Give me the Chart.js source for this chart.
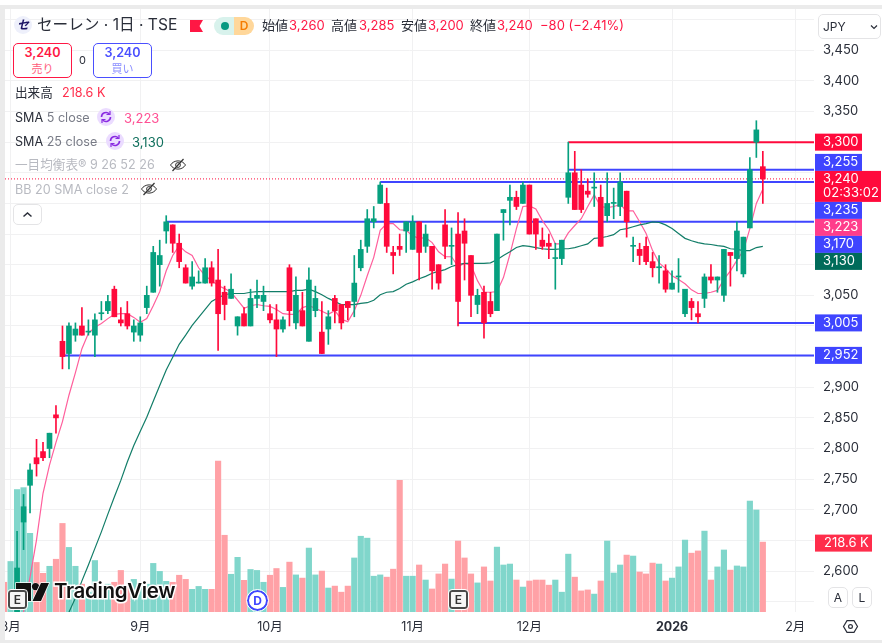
<!DOCTYPE html>
<html lang="ja">
<head>
<meta charset="utf-8">
<title>セーレン · 1日 · TSE</title>
<script src="https://cdn.jsdelivr.net/npm/chart.js@4/dist/chart.umd.min.js"></script>
<style>
  html, body { margin: 0; padding: 0; background: #fff; width: 882px; height: 643px; overflow: hidden; }
  body { position: relative; font-family: Inter, "Noto Sans CJK JP", sans-serif; color: #2a2e39; }
  canvas { position: absolute; left: 0; top: 0; }
  .abs { position: absolute; white-space: nowrap; line-height: 18px; height: 18px; }
  .band { position: absolute; background: #ebebeb; }
  .red { color: #ff1744; }
  .grey { color: #787b86; }
  .faint { color: #b8bac1; }
  .order { position: absolute; top: 43px; width: 57px; height: 33px; border: 1px solid; border-radius: 5px; text-align: center; box-sizing: content-box; background: #fff; }
  .order b { display: block; font-size: 12.6px; line-height: 18px; font-weight: 600; }
  .order span { display: block; font-size: 11px; line-height: 14px; }
  .btn { position: absolute; border: 1px solid #e4e4e6; border-radius: 5px; background: #fff; text-align: center; box-sizing: border-box; }
  .badge { position: absolute; width: 19px; height: 19px; box-sizing: border-box; border: 2px solid #4a4a4a; outline: 1px solid #fff; border-radius: 3px; background: #f6f6f6; text-align: center; font-size: 12px; line-height: 15px; font-weight: 600; color: #333; }
  svg { position: absolute; overflow: visible; }
</style>
</head>
<body>
<canvas id="chart" width="882" height="643"></canvas>

<div class="band" style="left:0;top:5px;width:882px;height:4px"></div>
<div class="band" style="left:0;top:5px;width:5px;height:638px"></div>
<div class="band" style="left:0;top:640px;width:882px;height:3px"></div>

<!-- symbol header -->
<div class="abs" style="left:14px;top:16px;width:18px;border-radius:9px;background:#eef0fb;text-align:center;color:#1c1464;font-size:12px;font-weight:700;font-style:italic">セ</div>
<div class="abs" style="left:37px;top:16px;font-size:15.6px">セーレン · 1日 · TSE</div>
<svg style="left:190px;top:20px" width="14" height="12"><path d="M0 0H13L9.5 6L13 12H0Z" fill="#ff1744"/></svg>
<div class="abs" style="left:214px;top:17px;width:20px;background:#d8f2ec;border-radius:9px 0 0 9px"></div>
<div class="abs" style="left:234px;top:17px;width:20px;background:#ffd79a;border-radius:0 9px 9px 0;text-align:center;font-size:12px;color:#f57c00;font-weight:600">D</div>
<div class="abs" style="left:221px;top:22px;width:8px;height:8px;border-radius:4px;background:#089981"></div>
<div class="abs" style="left:262px;top:16px;font-size:13px">始値</div><div class="abs red" style="left:289px;top:16px;font-size:13px">3,260</div>
<div class="abs" style="left:331px;top:16px;font-size:13px">高値</div><div class="abs red" style="left:359px;top:16px;font-size:13px">3,285</div>
<div class="abs" style="left:401px;top:16px;font-size:13px">安値</div><div class="abs red" style="left:428px;top:16px;font-size:13px">3,200</div>
<div class="abs" style="left:470px;top:16px;font-size:13px">終値</div><div class="abs red" style="left:497px;top:16px;font-size:13px">3,240</div>
<div class="abs red" style="left:540px;top:16px;font-size:13px">−80 (−2.41%)</div>

<!-- currency selector -->
<div class="btn" style="left:818px;top:14px;width:63px;height:25px;font-size:12px;line-height:23px;text-align:left;padding-left:4px">JPY</div>
<svg style="left:871px;top:25px" width="6" height="4"><path d="M0 0.5L3 3.5L6 0.5" fill="none" stroke="#2a2e39" stroke-width="1.2"/></svg>

<!-- order buttons -->
<div class="order" style="left:13px;border-color:#ff1744;color:#ff1744"><b>3,240</b><span style="color:#ff5c7c">売り</span></div>
<div class="abs" style="left:79px;top:51px;font-size:11px">0</div>
<div class="order" style="left:93px;border-color:#4a4fff;color:#4a4fff"><b>3,240</b><span style="color:#8a8dff">買い</span></div>

<!-- indicator legend -->
<div class="abs" style="left:15px;top:84px;font-size:12.6px">出来高</div>
<div class="abs" style="left:62px;top:84px;font-size:12.6px;color:#ff2d4b">218.6 K</div>

<div class="abs" style="left:15px;top:109px;font-size:12.6px">SMA <span class="grey">5 close</span></div>
<svg style="left:97px;top:108px" width="18" height="18"><circle cx="9" cy="9" r="9" fill="#ebdcff"/><path d="M4.5 9a4.5 4.5 0 0 1 7.8-3M13.5 9a4.5 4.5 0 0 1-7.8 3" fill="none" stroke="#8a2be2" stroke-width="1.6"/><path d="M13 3v3.5h-3.5M5 15v-3.5h3.5" fill="none" stroke="#8a2be2" stroke-width="1.2"/></svg>
<div class="abs" style="left:124px;top:109px;font-size:13px;color:#ff4f93">3,223</div>

<div class="abs" style="left:15px;top:133px;font-size:12.6px">SMA <span class="grey">25 close</span></div>
<svg style="left:106px;top:132px" width="18" height="18"><circle cx="9" cy="9" r="9" fill="#ebdcff"/><path d="M4.5 9a4.5 4.5 0 0 1 7.8-3M13.5 9a4.5 4.5 0 0 1-7.8 3" fill="none" stroke="#8a2be2" stroke-width="1.6"/><path d="M13 3v3.5h-3.5M5 15v-3.5h3.5" fill="none" stroke="#8a2be2" stroke-width="1.2"/></svg>
<div class="abs" style="left:132px;top:133px;font-size:13px;color:#0f6f5c">3,130</div>

<div class="abs faint" style="left:15px;top:156px;font-size:12.6px">一目均衡表® 9 26 52 26</div>
<svg style="left:170px;top:158px" width="16" height="14"><path d="M0.5 7C4 1.5 12 1.5 15.5 7C12 12.5 4 12.5 0.5 7Z" fill="none" stroke="#333" stroke-width="1"/><circle cx="8" cy="7" r="2.4" fill="none" stroke="#333"/><path d="M2.5 13L13.5 1" stroke="#333" stroke-width="1.2"/></svg>
<div class="abs faint" style="left:15px;top:181px;font-size:12.6px">BB 20 SMA close 2</div>
<svg style="left:141px;top:182px" width="16" height="14"><path d="M0.5 7C4 1.5 12 1.5 15.5 7C12 12.5 4 12.5 0.5 7Z" fill="none" stroke="#333" stroke-width="1"/><circle cx="8" cy="7" r="2.4" fill="none" stroke="#333"/><path d="M2.5 13L13.5 1" stroke="#333" stroke-width="1.2"/></svg>
<div class="btn" style="left:13px;top:204px;width:29px;height:21px"></div>
<svg style="left:23px;top:212px" width="9" height="5"><path d="M0.5 4.5L4.5 1L8.5 4.5" fill="none" stroke="#2a2e39" stroke-width="1.5"/></svg>

<!-- watermark and event markers -->
<svg style="left:16px;top:582px" width="32" height="20"><path d="M0 1H15V19H8V8H0Z" fill="#111" stroke="#fff" stroke-width="1.4" paint-order="stroke"/><circle cx="19.5" cy="4.6" r="3.6" fill="#111" stroke="#fff" stroke-width="1" paint-order="stroke"/><path d="M25 1H33L25 19H16.5Z" fill="#111" stroke="#fff" stroke-width="1.4" paint-order="stroke"/></svg>
<div class="abs" style="left:54px;top:580px;height:22px;line-height:22px;font-size:20.5px;font-weight:600;letter-spacing:-0.35px;color:#111;-webkit-text-stroke:3px #fff;paint-order:stroke fill">TradingView</div>
<div class="badge" style="left:8px;top:590px">E</div>
<div class="badge" style="left:449px;top:590px">E</div>
<div class="abs" style="left:247px;top:590px;width:17px;height:17px;border:2px solid #3f45ff;outline:1px solid #fff;border-radius:50%;background:#fff;text-align:center;font-size:12px;font-weight:700;color:#3f45ff;line-height:17px">D</div>

<!-- scale buttons -->
<div class="btn" style="left:828px;top:587px;width:20px;height:21px;font-size:12px;line-height:19px">A</div>
<div class="btn" style="left:852px;top:587px;width:20px;height:21px;font-size:12px;line-height:19px">L</div>
<svg style="left:843px;top:620px" width="15" height="13"><path d="M0.5 6.5L4 0.7H11L14.5 6.5L11 12.3H4Z" fill="none" stroke="#2a2e39" stroke-width="1.2"/><circle cx="7.5" cy="6.5" r="1.9" fill="none" stroke="#2a2e39" stroke-width="1.2"/></svg>

<script>
// Daily sessions, 2025-07-31 through 2026-01-26, then the empty sessions to the right of the last bar
const categories = [
  '07/31',
  '08/01','08/04','08/05','08/06','08/07','08/08','08/12','08/13','08/14','08/15','08/18','08/19','08/20','08/21','08/22','08/25','08/26','08/27','08/28','08/29',
  '09/01','09/02','09/03','09/04','09/05','09/08','09/09','09/10','09/11','09/12','09/16','09/17','09/18','09/19','09/22','09/24','09/25','09/26','09/29','09/30',
  '10/01','10/02','10/03','10/06','10/07','10/08','10/09','10/10','10/14','10/15','10/16','10/17','10/20','10/21','10/22','10/23','10/24','10/27','10/28','10/29','10/30','10/31',
  '11/04','11/05','11/06','11/07','11/10','11/11','11/12','11/13','11/14','11/17','11/18','11/19','11/20','11/21','11/25','11/26','11/27','11/28',
  '12/01','12/02','12/03','12/04','12/05','12/08','12/09','12/10','12/11','12/12','12/15','12/16','12/17','12/18','12/19','12/22','12/23','12/24','12/25','12/26','12/29','12/30',
  '01/05','01/06','01/07','01/08','01/09','01/13','01/14','01/15','01/16','01/19','01/20','01/21','01/22','01/23','01/26',
  '01/27','01/28','01/29','01/30','02/02'
];
const monthTickDates = ['08/01','09/01','10/01','11/04','12/01','01/05','02/02'];
const monthTickLabels = ['8月','9月','10月','11月','12月','2026','2月'];

const opens = [
  2495,2490,2525,2680,2740,2785,2795,2800,2855,2975,2955,2985,3000,2990,2985,3020,3025,3060,3010,3020,
  2990,2985,3030,3055,3100,3155,3165,3135,3095,3065,3070,3070,3095,3075,3055,3045,3000,3020,3000,3045,
  3040,3020,3010,2995,3095,3005,3025,2975,3025,2990,2995,3045,3035,3040,3040,3095,3130,3170,3200,3200,
  3120,3130,3155,3125,3170,3130,3130,3100,3165,3130,3150,3155,3115,3035,3055,3040,3025,3185,3205,3210,
  3200,3230,3175,3140,3135,3110,3110,3210,3250,3230,3220,3225,3210,3180,3200,3195,3220,3130,3125,3130,
  3105,3095,3090,3060,3080,3020,3040,3020,3045,3080,3075,3050,3120,3110,3085,3160,3300,3260
];
const highs = [
  2505,2525,2665,2725,2775,2815,2810,2825,2870,3000,3005,3005,3030,3010,3020,3040,3050,3065,3030,3040,
  3010,3015,3065,3130,3140,3180,3165,3150,3100,3105,3090,3110,3105,3125,3065,3085,3015,3030,3060,3075,
  3065,3035,3035,3015,3100,3080,3055,3095,3065,3040,3025,3050,3035,3040,3115,3140,3190,3195,3235,3225,
  3130,3150,3170,3180,3170,3165,3130,3100,3190,3160,3185,3175,3115,3060,3065,3055,3150,3190,3230,3220,
  3235,3230,3175,3160,3150,3135,3140,3300,3285,3255,3240,3250,3230,3250,3225,3250,3220,3145,3135,3145,
  3120,3115,3100,3090,3110,3060,3045,3040,3085,3100,3080,3125,3120,3170,3145,3275,3335,3285
];
const lows = [
  2475,2485,2515,2635,2695,2755,2780,2785,2825,2930,2930,2975,2985,2985,2950,3010,3020,3015,3000,2995,
  2975,2975,3020,3055,3065,3135,3120,3095,3070,3060,3070,3070,3065,2960,3010,3045,2985,3000,3000,3030,
  3025,3005,2950,2990,3000,2995,3000,2975,3015,2955,2970,3005,2995,3010,3015,3090,3120,3160,3200,3120,
  3085,3115,3120,3125,3075,3120,3060,3060,3110,3100,3000,3075,3015,3020,2980,3015,3025,3140,3165,3190,
  3200,3150,3125,3125,3110,3060,3100,3200,3190,3185,3210,3195,3130,3170,3175,3180,3145,3105,3100,3100,
  3080,3070,3055,3060,3055,3015,3010,3005,3030,3070,3055,3040,3065,3090,3080,3160,3275,3200
];
const closes = [
  2485,2515,2605,2705,2765,2775,2785,2825,2850,2950,3000,2995,2985,2990,3010,3020,3040,3015,3005,3000,
  3000,3005,3050,3120,3115,3170,3135,3105,3070,3080,3070,3095,3070,3020,3035,3060,3015,3000,3045,3050,
  3050,3010,2995,3010,3025,3050,3000,3075,3045,2955,3015,3025,3005,3030,3070,3125,3175,3175,3230,3130,
  3115,3125,3170,3170,3120,3150,3090,3070,3130,3130,3040,3135,3050,3050,3005,3020,3150,3190,3210,3195,
  3230,3150,3150,3130,3130,3110,3140,3250,3190,3190,3215,3225,3130,3200,3200,3235,3170,3130,3115,3105,
  3095,3095,3060,3070,3080,3060,3030,3015,3080,3075,3080,3125,3115,3155,3145,3255,3320,3240
];
// Volume in thousands of shares
const volumes = [
  93,158,383,389,246,155,121,143,165,277,202,143,87,62,161,78,87,93,130,78,
  102,87,87,152,127,96,93,115,102,71,80,71,71,472,240,118,171,99,133,130,
  93,115,136,77,156,116,106,200,116,128,75,81,62,81,169,237,231,112,116,109,
  134,412,112,112,147,100,72,119,150,103,222,169,119,91,141,97,203,147,150,100,
  78,97,100,100,84,100,62,181,109,66,69,56,97,222,122,147,178,175,125,119,
  153,150,97,106,141,225,184,191,253,100,141,194,131,144,141,347,319,218.6
];
const sma5 = [
  null,null,null,2533,2590,2651,2727,2773,2810,2844,2887,2924,2963,2988,2998,3004,3012,3019,3020,3020,
  3014,3006,3012,3033,3056,3090,3115,3131,3121,3115,3095,3082,3074,3066,3061,3055,3042,3029,3033,3035,
  3033,3032,3027,3020,3019,3019,3030,3033,3029,3024,3019,3025,3011,3007,3025,3050,3082,3112,3156,3167,
  3167,3157,3156,3147,3143,3144,3136,3121,3113,3113,3097,3102,3099,3074,3055,3055,3056,3079,3117,3159,
  3195,3196,3191,3172,3157,3134,3134,3152,3164,3175,3195,3214,3195,3193,3195,3198,3188,3188,3170,3151,
  3123,3103,3094,3082,3076,3069,3059,3053,3053,3055,3058,3076,3090,3107,3123,3159,3200,3223
];
const sma25 = [
  null,null,null,null,null,null,null,null,null,2504,2533,2556,2584,2610,2637,2664,2693,2721,2748,2778,
  2805,2828,2851,2877,2903,2928,2949,2970,2985,3001,3014,3027,3040,3046,3051,3053,3053,3053,3055,3056,
  3056,3056,3056,3056,3056,3058,3058,3060,3056,3051,3045,3040,3035,3035,3035,3037,3038,3042,3051,3055,
  3056,3061,3068,3072,3077,3081,3086,3089,3092,3097,3100,3102,3102,3102,3102,3103,3108,3115,3121,3128,
  3131,3130,3128,3126,3125,3125,3126,3126,3128,3131,3134,3143,3144,3146,3149,3157,3159,3162,3165,3167,
  3170,3169,3165,3159,3151,3143,3139,3136,3134,3133,3131,3130,3126,3125,3123,3123,3128,3130
];
// Horizontal levels drawn on the chart: price and the session each one starts from
const levelPrices = [3300, 3255, 3235, 3170, 3005, 2952];
const levelStartDates = ['12/09', '12/09', '10/27', '09/05', '11/13', '08/14'];
const lastClose = 3240;
const hiddenPriceTicks = [3300, 3250, 3200, 3150, 3100, 3000, 2950, 2650, 2550];

const COLOR_UP = '#06a07f';
const COLOR_DOWN = '#ff0a3c';
const COLOR_VOL_UP = '#80d6cb';
const COLOR_VOL_DOWN = '#ffa1a6';
const COLOR_LEVEL = '#3f45ff';
const COLOR_GRID = '#f1f1f2';
const TEXT_FONT = 'Inter, "Noto Sans CJK JP", sans-serif';

const X_MIN = 0.139;
const X_MAX = 124.89;
const sessions = opens.map((_, i) => i);
const candleColors = sessions.map(i => closes[i] >= opens[i] ? COLOR_UP : COLOR_DOWN);
const volumeColors = sessions.map(i => closes[i] >= opens[i] ? COLOR_VOL_UP : COLOR_VOL_DOWN);
const monthTickIndex = monthTickDates.map(d => categories.indexOf(d));

// Price tags on the right axis; tags are pushed apart around the current price tag
const priceTags = [
  { value: 3300, text: '3,300', fill: '#ff0a3c' },
  { value: 3255, text: '3,255', fill: COLOR_LEVEL },
  { value: 3240, text: '3,240', fill: '#ff0a3c', sub: '02:33:02', current: true },
  { value: 3235, text: '3,235', fill: COLOR_LEVEL },
  { value: 3223, text: '3,223', fill: '#ff3d8b' },
  { value: 3170, text: '3,170', fill: COLOR_LEVEL },
  { value: 3130, text: '3,130', fill: '#006b5a' },
  { value: 3005, text: '3,005', fill: COLOR_LEVEL },
  { value: 2952, text: '2,952', fill: COLOR_LEVEL }
];

const tagPlugin = {
  id: 'axisTags',
  afterDraw(chart) {
    const { ctx, scales } = chart;
    const TAG_H = 17, TAG_L = 815, TAG_W = 47, CUR_H = 31, CUR_W = 66;
    const anchorIdx = priceTags.findIndex(t => t.current);
    const tops = priceTags.map(t => scales.y.getPixelForValue(t.value) - TAG_H / 2);
    tops[anchorIdx] = scales.y.getPixelForValue(priceTags[anchorIdx].value) - 8;
    let limit = tops[anchorIdx];
    for (let i = anchorIdx - 1; i >= 0; i--) {
      tops[i] = Math.min(tops[i], limit - TAG_H);
      limit = tops[i];
    }
    limit = tops[anchorIdx] + CUR_H;
    for (let i = anchorIdx + 1; i < priceTags.length; i++) {
      tops[i] = Math.max(tops[i], limit);
      limit = tops[i] + TAG_H;
    }
    ctx.save();
    ctx.textBaseline = 'middle';
    ctx.textAlign = 'left';
    ctx.font = '13px ' + TEXT_FONT;
    priceTags.forEach((t, i) => {
      ctx.fillStyle = t.fill;
      ctx.fillRect(TAG_L, tops[i], t.current ? CUR_W : TAG_W, t.current ? CUR_H : TAG_H);
      ctx.fillStyle = '#fff';
      ctx.fillText(t.text, TAG_L + 8, tops[i] + (t.current ? 8 : TAG_H / 2));
      if (t.sub) ctx.fillText(t.sub, TAG_L + 8, tops[i] + 22);
    });
    // Volume tag follows the last volume bar
    const volTop = scales.yVolume.getPixelForValue(volumes[volumes.length - 1]);
    ctx.fillStyle = '#ff2d4b';
    ctx.fillRect(TAG_L, volTop - TAG_H / 2 + 1, 57, TAG_H);
    ctx.fillStyle = '#fff';
    ctx.fillText('218.6 K', TAG_L + 9, volTop + 1);
    ctx.restore();
  }
};

const levelDatasets = levelPrices.map((price, k) => ({
  type: 'line',
  data: [
    { x: categories.indexOf(levelStartDates[k]), y: price },
    { x: X_MAX, y: price }
  ],
  borderColor: price === 3300 ? '#ff0a3c' : COLOR_LEVEL,
  borderWidth: 2,
  pointRadius: 0,
  yAxisID: 'y',
  order: 4
}));

// Removes the room Chart.js reserves for overhanging tick labels
function noAxisPadding(scale) {
  scale.paddingLeft = scale.paddingRight = scale.paddingTop = scale.paddingBottom = 0;
}

new Chart(document.getElementById('chart'), {
  type: 'bar',
  plugins: [tagPlugin],
  data: {
    datasets: [
      {
        data: sessions.map(i => ({ x: i, y: volumes[i] })),
        backgroundColor: volumeColors,
        barThickness: 5.5,
        grouped: false,
        yAxisID: 'yVolume',
        order: 6
      },
      ...levelDatasets,
      {
        type: 'line',
        data: [{ x: X_MIN, y: lastClose }, { x: X_MAX, y: lastClose }],
        borderColor: '#ff0a3c',
        borderWidth: 1,
        borderDash: [1, 2],
        pointRadius: 0,
        yAxisID: 'y',
        order: 5
      },
      {
        type: 'line',
        data: sessions.map(i => ({ x: i, y: sma25[i] })),
        borderColor: '#127d68',
        borderWidth: 1.2,
        pointRadius: 0,
        yAxisID: 'y',
        order: 3
      },
      {
        type: 'line',
        data: sessions.map(i => ({ x: i, y: sma5[i] })),
        borderColor: '#ff5f9c',
        borderWidth: 1.2,
        pointRadius: 0,
        yAxisID: 'y',
        order: 3
      },
      {
        data: sessions.map(i => ({ x: i, y: [lows[i], highs[i]] })),
        backgroundColor: candleColors,
        barThickness: 1,
        grouped: false,
        yAxisID: 'y',
        order: 2
      },
      {
        data: sessions.map(i => ({ x: i, y: [opens[i], closes[i]] })),
        backgroundColor: candleColors,
        barThickness: 5,
        minBarLength: 1,
        grouped: false,
        yAxisID: 'y',
        order: 1
      }
    ]
  },
  options: {
    responsive: false,
    animation: false,
    events: [],
    layout: { autoPadding: false, padding: { left: 5, top: 9, right: 0, bottom: 0 } },
    plugins: { legend: { display: false }, tooltip: { enabled: false } },
    scales: {
      x: {
        type: 'linear',
        offset: false,
        min: X_MIN,
        max: X_MAX,
        border: { display: false },
        grid: { color: COLOR_GRID, drawTicks: false, offset: false },
        afterBuildTicks(scale) { scale.ticks = monthTickIndex.map(value => ({ value })); },
        afterFit(scale) { scale.height = 31; noAxisPadding(scale); },
        ticks: {
          autoSkip: false,
          maxRotation: 0,
          padding: 8,
          color: '#2a2e39',
          font(ctx) {
            const isYear = ctx.tick && monthTickLabels[monthTickIndex.indexOf(ctx.tick.value)] === '2026';
            return { family: TEXT_FONT, size: 12.5, weight: isYear ? '700' : '400' };
          },
          callback(value) { return monthTickLabels[monthTickIndex.indexOf(value)]; }
        }
      },
      y: {
        position: 'right',
        min: 2533.2,
        max: 3517.3,
        border: { display: false },
        grid: { color: COLOR_GRID, drawTicks: false },
        afterFit(scale) { scale.width = 68; noAxisPadding(scale); },
        ticks: {
          stepSize: 50,
          includeBounds: false,
          padding: 9,
          color: '#2a2e39',
          font: { family: TEXT_FONT, size: 13 },
          autoSkip: false,
          callback(value) {
            return hiddenPriceTicks.includes(value) ? '' : value.toLocaleString('en-US');
          }
        }
      },
      yVolume: {
        display: false,
        min: 0,
        max: 1886
      }
    }
  }
});
</script>
</body>
</html>
